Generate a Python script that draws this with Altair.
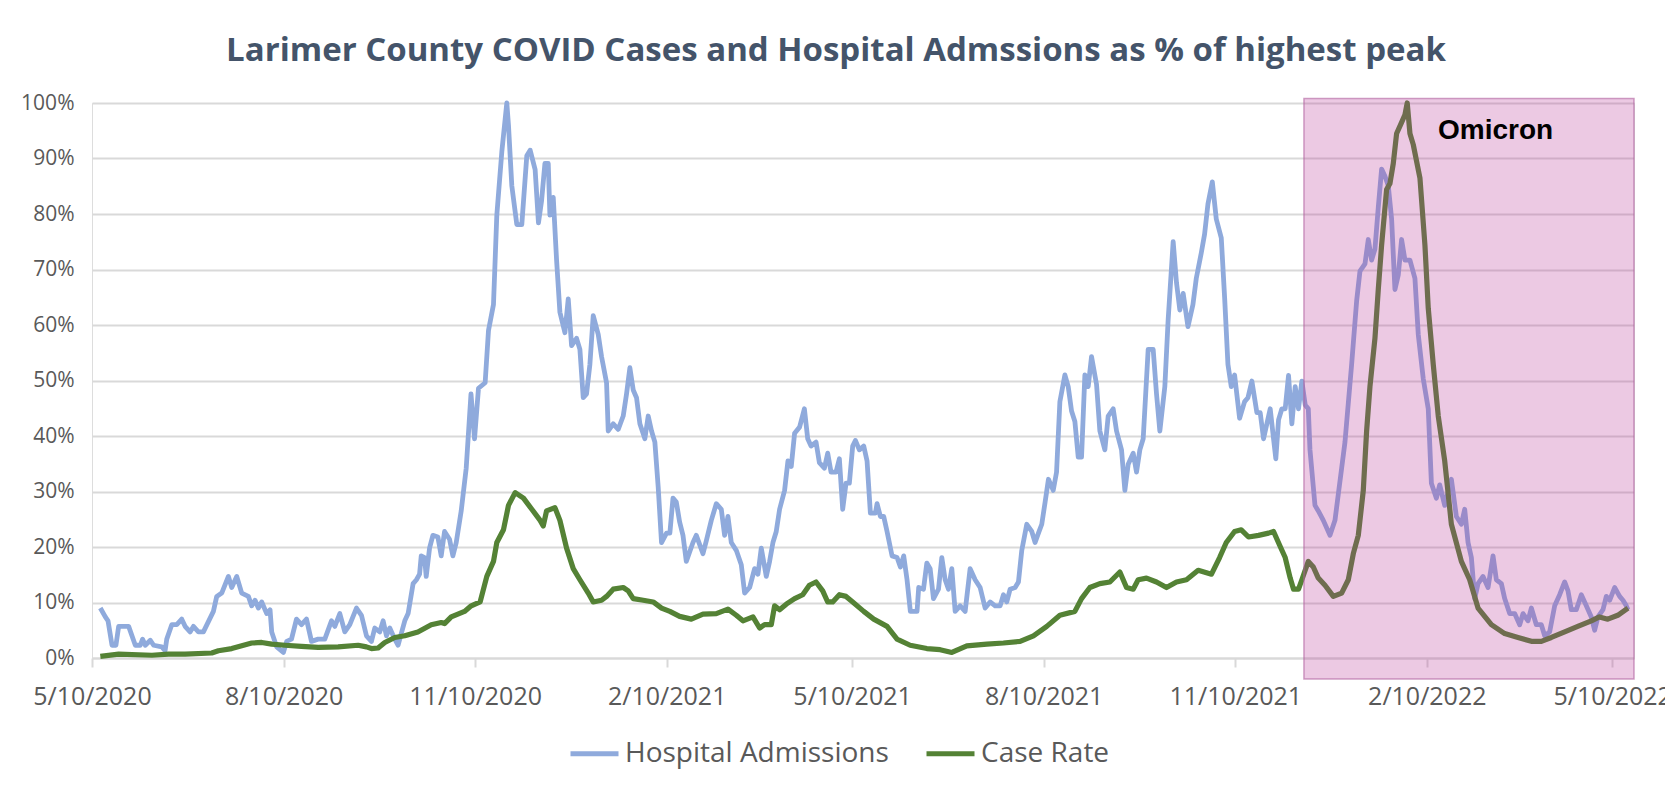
import altair as alt
import pandas as pd

# ---------------- data ----------------
START = "2020-05-10"

# Hospital admissions, % of highest peak; day offsets from START
hosp_day = [4.0, 6.4, 7.7, 9.6, 11.5, 12.8, 17.6, 20.8, 23.2, 24.3, 25.6, 28.0, 29.6, 33.5, 35.1, 35.9,
            38.3, 40.7, 43.1, 44.7, 47.1, 48.7, 51.1, 53.5, 58.3, 59.9, 62.3, 65.5, 67.1, 69.5, 71.9,
            75.1, 76.7, 78.3, 79.9, 81.5, 83.9, 85.5, 86.3, 88.7, 91.9, 93.5, 95.8, 98.2, 100.6, 103.0,
            105.4, 108.6, 111.8, 115.0, 116.6, 119.0, 121.4, 123.8, 127.0, 129.4, 131.8, 134.2, 135.8,
            138.2, 139.8, 141.4, 143.0, 145.4, 147.0, 150.2, 151.8, 154.2, 155.8, 157.3, 158.1, 159.7,
            160.5, 162.1, 163.7, 166.1, 167.7, 169.3, 171.7, 173.3, 174.9, 177.3, 179.7, 182.0, 183.7,
            185.6, 188.8, 190.4, 192.8, 194.4, 196.8, 199.2, 200.0, 201.6, 204.0, 206.4, 208.8, 210.4,
            212.8, 214.4, 215.9, 217.5, 219.1, 219.9, 221.5, 223.1, 224.7, 227.1, 228.7, 230.3, 232.7,
            234.3, 235.9, 237.5, 239.1, 240.7, 243.1, 244.7, 247.1, 247.9, 250.3, 252.7, 255.1, 256.7,
            258.3, 259.9, 261.5, 263.1, 265.5, 267.1, 268.7, 270.3, 271.9, 273.5, 275.9, 277.5, 279.0,
            280.6, 282.2, 283.8, 285.4, 287.0, 288.6, 290.2, 293.4, 295.0, 297.4, 299.8, 302.2, 303.8,
            305.4, 307.0, 309.4, 311.8, 313.4, 315.8, 318.2, 319.8, 321.4, 323.8, 325.4, 327.0, 328.6,
            330.2, 332.6, 334.2, 335.8, 337.4, 339.8, 342.1, 343.7, 345.3, 347.7, 349.3, 351.7, 353.3,
            354.9, 357.3, 358.9, 360.5, 362.1, 363.7, 365.3, 366.6, 368.5, 370.6, 372.2, 373.8, 376.2,
            377.0, 378.6, 380.2, 381.8, 384.2, 386.6, 388.2, 389.8, 391.4, 393.0, 396.2, 397.0, 399.3,
            400.9, 402.5, 404.1, 406.5, 408.1, 409.7, 411.3, 412.9, 414.5, 416.9, 419.3, 421.7, 424.1,
            426.5, 428.9, 431.3, 433.7, 436.1, 437.7, 439.3, 440.9, 443.3, 444.9, 446.5, 448.9, 451.3,
            452.9, 454.5, 456.1, 457.7, 459.3, 461.6, 463.2, 464.8, 467.2, 468.8, 470.4, 472.0, 473.6,
            475.2, 476.8, 478.4, 480.0, 482.4, 484.0, 486.4, 488.0, 490.4, 492.0, 494.4, 496.0, 497.6,
            500.0, 501.6, 503.2, 504.8, 507.2, 509.6, 511.2, 512.8, 515.2, 516.8, 519.2, 520.8, 522.4,
            524.0, 526.3, 528.7, 530.3, 532.7, 534.3, 535.9, 538.0, 539.9, 542.3, 543.9, 545.5, 547.1,
            548.7, 551.1, 553.5, 555.1, 557.0, 559.4, 561.0, 562.6, 564.2, 565.8, 567.4, 568.5, 569.8,
            571.4, 573.0, 574.6, 576.2, 577.8, 579.4, 581.0, 582.6, 584.1, 584.9, 587.3, 588.9, 591.3,
            594.5, 596.9, 598.5, 600.1, 601.7, 604.9, 607.3, 608.9, 611.3, 612.9, 614.5, 616.1, 617.7,
            619.3, 620.9, 622.5, 624.1, 625.7, 627.3, 628.9, 630.5, 632.9, 635.3, 636.9, 639.3, 641.7,
            643.2, 645.6, 647.2, 649.6, 652.8, 655.2, 657.6, 659.2, 660.8, 662.4, 664.0, 665.6, 668.0,
            670.4, 672.8, 674.4, 676.8, 678.4, 680.8, 683.2, 685.6, 687.2, 689.6, 691.2, 693.6, 696.0,
            697.6, 700.0, 702.4, 704.8, 707.2, 708.8, 710.4, 712.8, 715.2, 717.6, 720.0, 721.6, 723.2,
            725.6, 727.2, 728.8, 731.2, 733.6, 735.2, 736.8, 737.6]
hosp_pct = [9.0, 7.4, 6.7, 2.3, 2.3, 5.7, 5.7, 2.3, 2.3, 3.4, 2.3, 3.2, 2.3, 2.0, 1.3, 3.4,
            6.0, 6.0, 7.0, 5.7, 4.7, 5.7, 4.7, 4.7, 8.4, 11.1, 11.7, 14.7, 12.7, 14.7, 11.7,
            11.1, 9.4, 10.4, 9.0, 10.1, 8.0, 8.7, 4.7, 2.0, 1.0, 3.0, 3.4, 7.0, 6.0, 7.0,
            3.0, 3.4, 3.4, 6.7, 5.7, 8.0, 4.7, 6.0, 9.0, 7.7, 4.0, 3.0, 5.4,
            4.7, 6.7, 4.0, 5.4, 3.4, 2.3, 6.7, 8.0, 13.4, 14.1, 15.1, 18.4, 18.1,
            14.7, 19.8, 22.1, 21.8, 18.4, 22.8, 21.4, 18.4, 20.8, 26.5, 34.2, 47.6, 39.5,
            48.6, 49.6, 59.0, 63.7, 79.8, 91.2, 100.0, 96.0, 85.1, 78.1, 78.1, 90.5, 91.5,
            88.0, 78.4, 82.4, 89.1, 89.1, 79.8, 83.0, 71.7, 62.3, 58.6, 64.7, 56.3, 57.6,
            55.6, 46.9, 47.6, 52.9, 61.7, 58.3, 54.3, 49.6, 40.9, 42.2, 41.2, 43.6, 47.6,
            52.3, 48.3, 46.9, 42.2, 39.5, 43.6, 40.9, 38.9, 30.8, 20.8, 22.5, 22.5, 28.8,
            28.1, 24.5, 22.1, 17.4, 19.1, 20.8, 22.1, 18.8, 21.1, 24.8, 27.8, 26.8, 22.1,
            25.5, 20.8, 19.4, 16.8, 11.7, 12.7, 16.1, 15.1, 19.8, 14.7, 17.4, 20.8, 22.8,
            26.8, 30.2, 35.5, 34.5, 40.5, 41.6, 44.9, 39.5, 38.2, 38.9, 35.2, 34.2, 36.9,
            33.5, 33.5, 35.9, 26.8, 31.5, 31.5, 38.2, 39.2, 37.5, 38.2, 35.5, 26.1, 26.1,
            27.8, 25.5, 25.5, 22.8, 18.4, 18.1, 16.4, 18.4, 14.1, 8.4, 8.4, 12.7, 12.4,
            17.1, 16.1, 10.7, 12.4, 18.1, 14.1, 12.4, 16.1, 8.4, 9.4, 8.4, 16.1, 14.1,
            12.7, 9.0, 10.1, 9.4, 9.4, 11.4, 10.1, 12.4, 12.7, 13.7, 19.4, 24.1, 22.8,
            20.8, 22.5, 24.1, 28.1, 32.2, 30.2, 33.5, 46.2, 51.0, 48.9, 44.5, 42.6, 36.2,
            36.2, 51.0, 48.9, 54.3, 49.3, 40.9, 37.5, 43.6, 44.9, 40.9, 37.5, 30.2, 34.9,
            36.9, 33.5, 37.5, 39.5, 55.6, 55.6, 47.6, 40.9, 48.9, 61.0, 75.0, 67.6, 62.7,
            65.7, 59.7, 63.7, 68.4, 73.0, 76.4, 81.8, 85.8, 79.1, 75.7, 65.0, 52.9, 48.9,
            51.0, 43.2, 46.2, 46.9, 49.9, 44.2, 44.2, 39.5, 42.2, 44.9, 39.5, 35.9, 42.9,
            44.9, 44.9, 50.9, 42.2, 48.9, 44.9, 49.9, 45.6, 44.9, 37.5, 27.5, 26.5, 24.8,
            22.1, 24.8, 29.5, 34.2, 38.9, 52.9, 64.3, 69.7, 71.0, 75.4, 71.7, 73.7, 81.2,
            88.1, 86.8, 85.1, 79.1, 66.4, 69.0, 75.4, 71.7, 71.7, 68.4, 58.3, 50.3, 44.9,
            31.5, 28.8, 31.2, 27.5, 32.2, 25.5, 24.1, 26.8, 20.8, 18.1, 10.7, 13.4, 14.7,
            12.7, 18.4, 14.1, 13.4, 10.7, 8.0, 8.0, 6.0, 8.0, 6.7, 9.0, 6.0, 6.0,
            4.0, 4.7, 9.4, 11.4, 13.7, 12.1, 8.7, 8.7, 11.4, 9.4, 7.4, 5.0, 7.4,
            8.7, 11.1, 10.4, 12.7, 11.1, 10.4, 9.4, 8.7]

# Case rate, % of highest peak; day offsets from START
case_day = [4.0, 12.8, 28.8, 36.7, 44.7, 57.5, 60.7, 67.1, 71.9, 76.7, 81.5, 86.3, 92.7, 100.6,
            108.6, 118.2, 127.8, 131.8, 134.2, 137.4, 140.6, 145.4, 150.2, 156.5, 162.9, 167.7,
            169.3, 172.5, 178.9, 182.1, 186.4, 189.6, 192.8, 194.4, 197.6, 200.0, 203.2, 207.2,
            211.2, 215.2, 216.7, 218.3, 222.3, 224.7, 227.9, 231.1, 234.3, 238.3, 240.7, 244.7,
            247.1, 250.3, 255.1, 257.5, 259.9, 264.7, 269.5, 273.5, 277.5, 282.2, 287.8, 293.4,
            299.8, 305.4, 309.4, 312.6, 317.4, 320.6, 323.0, 326.2, 327.8, 330.2, 333.4, 337.4,
            341.3, 344.5, 347.7, 350.9, 353.3, 355.7, 358.9, 362.1, 365.3, 370.6, 375.4, 381.8,
            386.6, 392.9, 400.9, 407.3, 412.9, 420.1, 429.7, 437.7, 445.7, 452.1, 458.5, 464.8,
            472.0, 475.2, 479.2, 484.0, 488.8, 493.6, 496.8, 500.0, 502.4, 506.4, 511.2, 516.0,
            520.8, 525.6, 531.2, 537.6, 541.5, 544.7, 548.7, 551.9, 555.4, 560.2, 565.0, 567.4,
            570.6, 573.0, 575.4, 577.0, 579.4, 581.0, 584.1, 586.5, 588.9, 592.1, 596.1, 600.1,
            603.3, 605.7, 608.1, 610.5, 612.1, 613.7, 616.1, 617.7, 619.3, 621.7, 623.3, 624.9,
            626.5, 628.9, 630.5, 631.6, 632.9, 634.5, 637.7, 640.1, 641.7, 644.1, 646.5, 649.6,
            652.8, 657.6, 661.6, 665.6, 672.0, 678.4, 684.8, 691.2, 696.0, 700.8, 707.2, 713.5,
            720.0, 723.9, 727.9, 732.7, 737.6]
case_pct = [0.3, 0.7, 0.5, 0.7, 0.7, 0.9, 1.3, 1.7, 2.2, 2.7, 2.8, 2.5, 2.3, 2.1,
            1.9, 2.0, 2.3, 2.0, 1.7, 1.8, 2.8, 3.7, 4.0, 4.7, 6.0, 6.4,
            6.2, 7.4, 8.4, 9.4, 10.1, 14.7, 17.4, 20.8, 23.1, 27.5, 29.8, 28.8,
            26.8, 24.8, 23.8, 26.5, 27.1, 24.8, 19.8, 16.1, 14.1, 11.7, 10.1, 10.4,
            11.1, 12.4, 12.7, 12.1, 10.7, 10.4, 10.1, 9.0, 8.4, 7.5, 7.0, 7.9,
            8.0, 8.8, 7.7, 6.7, 7.4, 5.4, 6.0, 6.0, 9.4, 8.7, 9.7, 10.7,
            11.4, 13.1, 13.7, 12.1, 10.1, 10.1, 11.4, 11.1, 10.1, 8.4, 7.0, 5.7,
            3.4, 2.3, 1.7, 1.5, 1.0, 2.2, 2.5, 2.7, 3.0, 4.0, 5.7, 7.7,
            8.4, 10.7, 12.7, 13.4, 13.7, 15.5, 12.7, 12.4, 14.1, 14.4, 13.7, 12.7,
            13.7, 14.1, 15.8, 15.1, 18.1, 20.8, 22.8, 23.1, 21.8, 22.1, 22.5, 22.8,
            20.1, 18.1, 14.4, 12.4, 12.4, 14.1, 17.4, 16.4, 14.4, 13.1, 11.1, 11.7,
            14.1, 18.8, 22.1, 30.2, 40.9, 48.9, 57.6, 66.4, 74.4, 84.4, 85.5, 89.1,
            94.5, 96.5, 97.9, 100.0, 94.5, 92.5, 86.5, 74.4, 63.0, 52.9, 43.6, 35.5,
            24.1, 17.4, 14.1, 9.0, 6.0, 4.4, 3.7, 3.0, 3.0, 3.7, 4.7, 5.7,
            6.7, 7.4, 7.0, 7.7, 9.0]

series_names = ["Hospital Admissions", "Case Rate"]
series_colors = ["#8FAADC", "#548235"]
y_ticks = [0, 10, 20, 30, 40, 50, 60, 70, 80, 90, 100]
x_tick_dates = [(2020, 5, 10), (2020, 8, 10), (2020, 11, 10), (2021, 2, 10), (2021, 5, 10),
                (2021, 8, 10), (2021, 11, 10), (2022, 2, 10), (2022, 5, 10)]
x_domain = [(2020, 5, 10, 0), (2022, 5, 20, 12)]

omicron_span = ["2021-12-13T00:00:00Z", "2022-05-20T12:00:00Z"]
omicron_y = [-3.8, 100.8]
omicron_label = "Omicron"
omicron_label_at = ("2022-03-15T00:00:00Z", 95.0)

title_text = "Larimer County COVID Cases and Hospital Admssions as % of highest peak"

# ---------------- tables ----------------
base = pd.Timestamp(START)


def to_iso(days):
    return [(base + pd.Timedelta(days=d)).strftime("%Y-%m-%dT%H:%M:%SZ") for d in days]


hosp_df = pd.DataFrame({"date": to_iso(hosp_day), "pct": hosp_pct, "series": series_names[0]})
case_df = pd.DataFrame({"date": to_iso(case_day), "pct": case_pct, "series": series_names[1]})
box_df = pd.DataFrame({"start": [omicron_span[0]], "end": [omicron_span[1]],
                       "low": [omicron_y[0]], "high": [omicron_y[1]]})
label_df = pd.DataFrame({"date": [omicron_label_at[0]], "pct": [omicron_label_at[1]],
                         "label": [omicron_label]})

# ---------------- scales / axes ----------------
GRAY = "#D9D9D9"
LABEL = "#595959"
FONT = "Open Sans"

x_scale = alt.Scale(type="utc", domain=[
    alt.DateTime(year=y, month=m, date=d, hours=h, utc=True) for (y, m, d, h) in x_domain])
y_scale = alt.Scale(domain=[0, 100], nice=False, zero=False)
color_scale = alt.Scale(domain=series_names, range=series_colors)

x_axis = alt.Axis(
    values=[alt.DateTime(year=y, month=m, date=d, utc=True) for (y, m, d) in x_tick_dates],
    labelExpr="(utcmonth(datum.value) + 1) + '/' + utcdate(datum.value) + '/' + utcyear(datum.value)",
    title=None, grid=False,
    tickSize=9, tickColor=GRAY, tickWidth=2, domainColor=GRAY, domainWidth=2,
    labelFont=FONT, labelFontSize=25, labelColor=LABEL, labelPadding=17,
    labelOverlap=False, labelFlush=False)
y_axis = alt.Axis(
    values=y_ticks, labelExpr="datum.value + '%'", title=None, ticks=False, domain=False,
    grid=True, gridColor=GRAY, gridWidth=2, labelFont=FONT, labelFontSize=21,
    labelColor=LABEL, labelPadding=18)

legend = alt.Legend(
    title=None, orient="none", legendX=476, legendY=624, direction="horizontal",
    symbolType="stroke", symbolSize=2304, symbolStrokeWidth=5, labelFont=FONT,
    labelFontSize=28, labelColor=LABEL, labelOffset=4, columnPadding=27,
    labelLimit=400)

enc_x = alt.X("date:T", scale=x_scale, axis=x_axis)
enc_y = alt.Y("pct:Q", scale=y_scale, axis=y_axis)
enc_c = alt.Color("series:N", scale=color_scale, legend=legend)

hosp = alt.Chart(hosp_df).mark_line(strokeWidth=4.8, strokeJoin="round").encode(
    x=enc_x, y=enc_y, color=enc_c)
case = alt.Chart(case_df).mark_line(strokeWidth=5.2, strokeJoin="round").encode(
    x=enc_x, y=enc_y, color=enc_c)
box = alt.Chart(box_df).mark_rect(
    fill="#B93998", fillOpacity=0.27, stroke="#B0609E", strokeOpacity=0.6, strokeWidth=1.5
).encode(x="start:T", x2="end:T", y="low:Q", y2="high:Q")
label = alt.Chart(label_df).mark_text(
    font="Liberation Sans", fontWeight="bold", fontSize=28, color="black"
).encode(x="date:T", y="pct:Q", text="label:N")

chart = alt.layer(hosp, case, box, label).properties(
    width=1542, height=555,
    title=alt.Title(title_text, font=FONT, fontSize=33, fontWeight="bold", color="#44546A",
                    anchor="middle", frame="group", dx=-27, offset=24),
    autosize=alt.AutoSizeParams(type="none"),
    padding={"left": 84, "top": 95, "right": 31, "bottom": 120},
).configure_view(stroke=None).configure(background="white")

chart.save("out.html", embed_options={"renderer": "svg", "actions": False})
